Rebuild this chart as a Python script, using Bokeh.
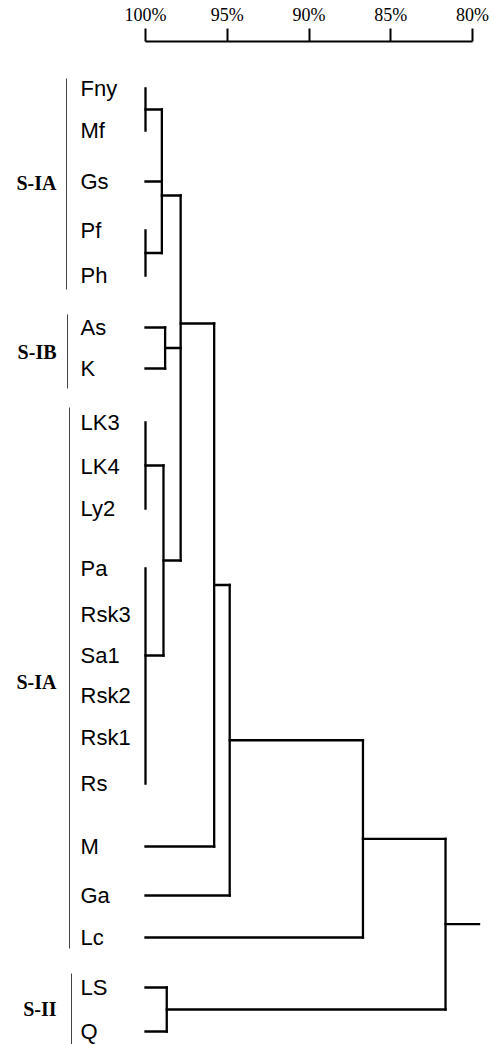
from bokeh.plotting import figure
from bokeh.models import Range1d, FixedTicker
from bokeh.core.properties import value
from bokeh.embed import file_html
from bokeh.resources import INLINE

# ---------------- data ----------------
leaves = ["Fny", "Mf", "Gs", "Pf", "Ph", "As", "K", "LK3", "LK4", "Ly2",
          "Pa", "Rsk3", "Sa1", "Rsk2", "Rsk1", "Rs", "M", "Ga", "Lc", "LS", "Q"]
# clusters: children and similarity (%)
cluster_names = ["c1", "c2", "c3", "c4", "c5", "c6", "c7", "c8", "c9", "c10", "c11", "c12", "root"]
cluster_children = [["Fny", "Mf"], ["Pf", "Ph"], ["c1", "Gs", "c2"], ["As", "K"],
                    ["LK3", "LK4", "Ly2"], ["Pa", "Rsk3", "Sa1", "Rsk2", "Rsk1", "Rs"],
                    ["c5", "c6"], ["c3", "c4", "c7"], ["c8", "M"], ["c9", "Ga"],
                    ["c10", "Lc"], ["LS", "Q"], ["c11", "c12"]]
cluster_sim = [100.0, 100.0, 99.0, 98.8, 100.0, 100.0, 98.9, 97.85, 95.8, 94.85, 86.7, 98.7, 81.65]
root_end = 79.6
groups = ["S-IA", "S-IB", "S-IA", "S-II"]
tick_values = [100, 95, 90, 85, 80]
tick_labels = ["100%", "95%", "90%", "85%", "80%"]

# ---------------- layout (page-pixel rows, top-down) ----------------
leaf_row = [88, 130, 181, 230, 275, 327, 368, 422, 466, 508,
            568, 614, 655, 695, 737, 783, 846, 895, 937, 987, 1031]
junction_row = {"c3": 195, "c8": 323, "c6": 655}
group_line_top = [78, 314, 407, 973]
group_line_bot = [289, 388, 948, 1050]
group_label_row = [182, 351, 681, 1008]

W, H = 494, 1044
PPP = 16.35            # pixels per percent
C100 = 145             # canvas x of 100%
def dx(canvas_x):
    return 100 + (C100 - canvas_x) / PPP

p = figure(width=W, height=H, output_backend="svg", toolbar_location=None,
           x_axis_location="above", y_axis_location=None,
           min_border_left=0, min_border_right=0, min_border_bottom=0, min_border_top=41)
p.x_range = Range1d(dx(0), dx(W))
p.y_range = Range1d(1044, 41)
p.grid.visible = False
p.outline_line_color = None
p.background_fill_color = "white"
p.border_fill_color = "white"

ax = p.xaxis[0]
ax.ticker = FixedTicker(ticks=tick_values)
ax.major_label_overrides = {v: s for v, s in zip(tick_values, tick_labels)}
ax.bounds = (min(tick_values), max(tick_values))
ax.axis_line_width = 2
ax.axis_line_color = "black"
ax.major_tick_line_width = 2
ax.major_tick_line_color = "black"
ax.major_tick_out = 13
ax.major_tick_in = 0
ax.minor_tick_line_color = None
ax.major_label_text_font = "Liberation Serif"
ax.major_label_text_font_size = "18px"
ax.major_label_text_color = "black"
ax.major_label_standoff = 4

# ---------------- dendrogram ----------------
pos_y = {n: y for n, y in zip(leaves, leaf_row)}
pos_x = {n: 100.0 for n in leaves}
x0, y0, x1, y1 = [], [], [], []
for name, ch, s in zip(cluster_names, cluster_children, cluster_sim):
    ys = [pos_y[c] for c in ch]
    top, bot = min(ys), max(ys)
    jy = junction_row.get(name, (top + bot) / 2)
    x0.append(s); y0.append(top); x1.append(s); y1.append(bot)
    for c in ch:
        if pos_x[c] != s:
            x0.append(pos_x[c]); y0.append(pos_y[c]); x1.append(s); y1.append(pos_y[c])
    pos_y[name] = jy
    pos_x[name] = s
x0.append(pos_x["root"]); y0.append(pos_y["root"]); x1.append(root_end); y1.append(pos_y["root"])

p.segment(x0=x0, y0=y0, x1=x1, y1=y1, line_color="black", line_width=2.3, line_cap="square")

# leaf labels
p.text(x=[dx(80)] * len(leaves), y=leaf_row, text=leaves,
       text_font=value("Liberation Sans"), text_font_size="22px",
       text_align="left", text_baseline="middle", text_color="black")

# group brackets and labels
gx = [dx(66), dx(67), dx(69), dx(71)]
p.segment(x0=gx, y0=group_line_top, x1=gx, y1=group_line_bot, line_color="#444444", line_width=1)
p.text(x=[dx(56)] * len(groups), y=group_label_row, text=groups,
       text_font=value("Liberation Serif"), text_font_style="bold", text_font_size="20px",
       text_align="right", text_baseline="middle", text_color="black")

open("out.html", "w").write(file_html(p, INLINE))
